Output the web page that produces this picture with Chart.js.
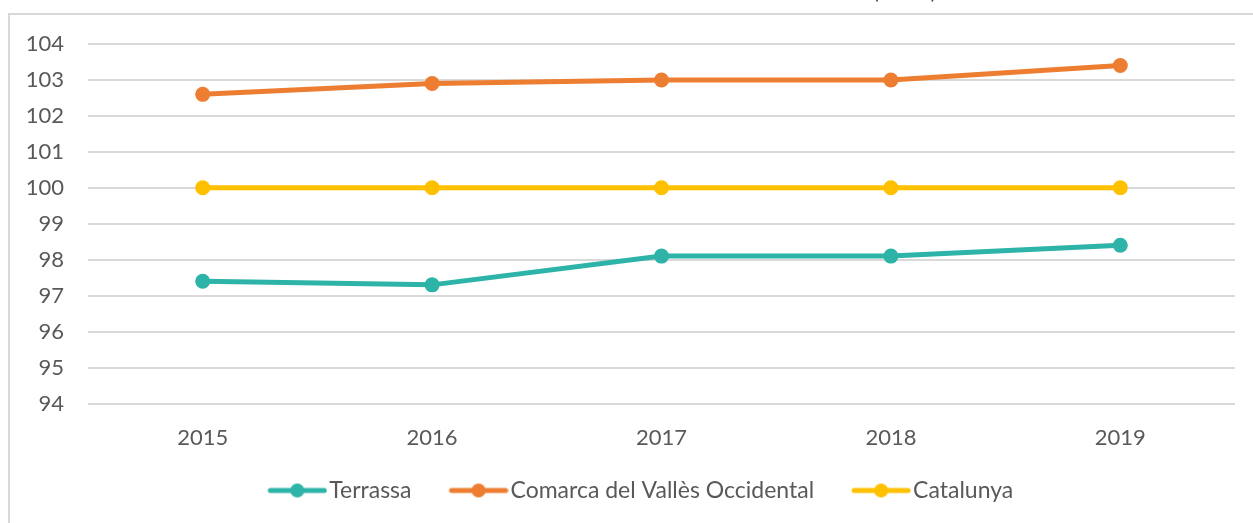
<!DOCTYPE html>
<html>
<head>
<meta charset="utf-8">
<script src="https://cdn.jsdelivr.net/npm/chart.js@4"></script>
<style>
  html, body { margin: 0; padding: 0; background: #ffffff; }
  #wrap { width: 1253px; height: 523px; }
</style>
</head>
<body>
<div id="wrap"><canvas id="rendaChart" width="1253" height="523"></canvas></div>
<script>
// Dades
const years = ['2015', '2016', '2017', '2018', '2019'];
const terrassa = [97.4, 97.3, 98.1, 98.1, 98.4];
const comarca = [102.6, 102.9, 103.0, 103.0, 103.4];
const catalunya = [100, 100, 100, 100, 100];
const seriesNames = ['Terrassa', 'Comarca del Vallès Occidental', 'Catalunya'];
const seriesColors = ['#2DB3A7', '#ED7D31', '#FFC000'];

const textColor = '#595959';
const gridColor = '#d9d9d9';

// Icona de llegenda estil Excel: línia amb punt al mig
function legendIcon(color) {
    const c = document.createElement('canvas');
    c.width = 98;
    c.height = 16;
    const g = c.getContext('2d');
    g.strokeStyle = color;
    g.lineWidth = 5;
    g.lineCap = 'round';
    g.beginPath();
    g.moveTo(41, 8);
    g.lineTo(95, 8);
    g.stroke();
    g.fillStyle = color;
    g.beginPath();
    g.arc(68, 8, 7, 0, Math.PI * 2);
    g.fill();
    return c;
}

// Marc del gràfic i títol (tallat a dalt)
const framePlugin = {
    id: 'frame',
    beforeDraw(chart) {
        const ctx = chart.ctx;
        ctx.save();
        ctx.fillStyle = '#ffffff';
        ctx.fillRect(0, 0, chart.width, chart.height);
        ctx.strokeStyle = gridColor;
        ctx.lineWidth = 2;
        ctx.strokeRect(9, 14, chart.width + 20, chart.height + 20);
        ctx.fillStyle = '#404040';
        ctx.font = '20px Lato';
        ctx.textAlign = 'right';
        ctx.textBaseline = 'alphabetic';
        ctx.fillText('Índex de renda bruta (RFDB)', 936, -1);
        ctx.restore();
    }
};

function makeDataset(i, values) {
    return {
        label: seriesNames[i],
        data: values,
        borderColor: seriesColors[i],
        backgroundColor: seriesColors[i],
        borderWidth: 5,
        pointRadius: 7.5,
        pointHoverRadius: 7.5,
        pointBorderWidth: 0,
        pointBackgroundColor: seriesColors[i],
        tension: 0,
        fill: false
    };
}

const rendaChart = new Chart(document.getElementById('rendaChart').getContext('2d'), {
    type: 'line',
    data: {
        labels: years,
        datasets: [
            makeDataset(0, terrassa),
            makeDataset(1, comarca),
            makeDataset(2, catalunya)
        ]
    },
    plugins: [framePlugin],
    options: {
        responsive: false,
        animation: false,
        layout: {
            padding: { left: 17, right: 18, top: 44, bottom: 11 }
        },
        scales: {
            x: {
                offset: true,
                grid: { display: false, drawTicks: false },
                border: { display: false },
                ticks: {
                    color: textColor,
                    padding: 21,
                    font: { family: 'Lato', size: 22 }
                },
                afterFit(scale) {
                    scale.height = 67;
                }
            },
            y: {
                min: 94,
                max: 104,
                ticks: {
                    stepSize: 1,
                    color: textColor,
                    padding: 24,
                    font: { family: 'Lato', size: 22 }
                },
                grid: {
                    color: gridColor,
                    lineWidth: 2,
                    drawTicks: false
                },
                border: { display: false },
                afterFit(scale) {
                    scale.width = 71;
                }
            }
        },
        plugins: {
            legend: {
                position: 'bottom',
                labels: {
                    usePointStyle: true,
                    pointStyleWidth: 79,
                    padding: 8.5,
                    color: textColor,
                    font: { family: 'Lato', size: 23 },
                    generateLabels(chart) {
                        return chart.data.datasets.map((ds, i) => ({
                            text: ds.label,
                            fontColor: textColor,
                            pointStyle: legendIcon(seriesColors[i]),
                            datasetIndex: i,
                            hidden: false,
                            lineWidth: 0
                        }));
                    }
                }
            },
            tooltip: { enabled: false }
        }
    }
});
</script>
</body>
</html>
